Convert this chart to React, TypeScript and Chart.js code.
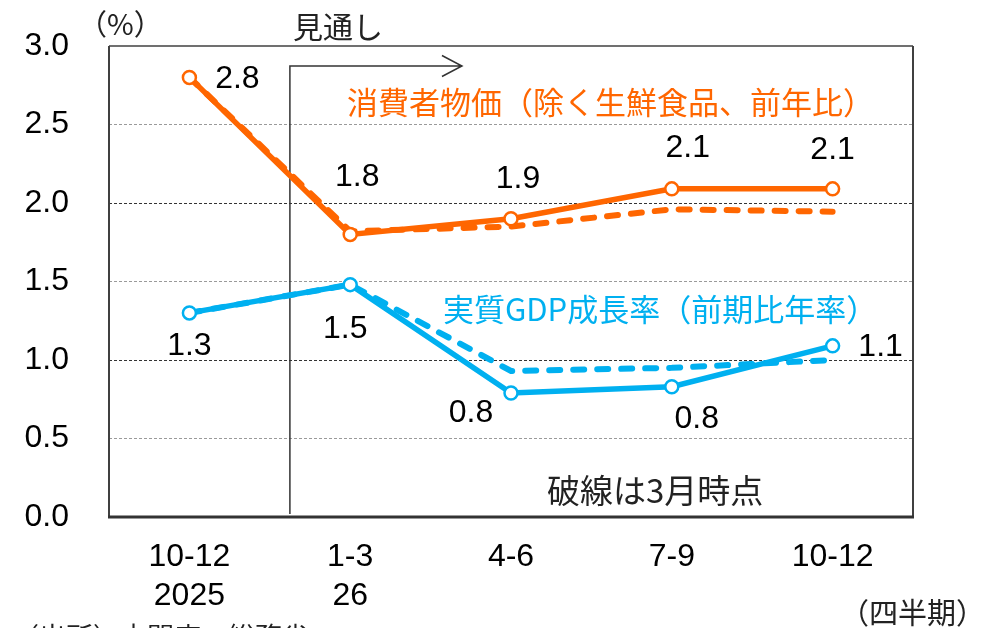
import React, { useEffect, useRef } from "react";
import { Chart, registerables } from "chart.js";

Chart.register(...registerables);

// ---- data ----
const categories: (string | string[])[] = [["10-12", "2025"], ["1-3", "26"], "4-6", "7-9", "10-12"];
const cpiOutlook = [2.8, 1.8, 1.9, 2.09, 2.09];
const cpiMarch = [2.8, 1.82, 1.85, 1.96, 1.945];
const gdpOutlook = [1.3, 1.48, 0.79, 0.83, 1.09];
const gdpMarch = [1.3, 1.48, 0.93, 0.95, 1.0];
const cpiValueLabels = ["2.8", "1.8", "1.9", "2.1", "2.1"];
const gdpValueLabels = ["1.3", "1.5", "0.8", "0.8", "1.1"];
const yMin = 0;
const yMax = 3;
const yStep = 0.5;
const cpiTitle = "消費者物価（除く生鮮食品、前年比）";
const gdpTitle = "実質GDP成長率（前期比年率）";
const outlookText = "見通し";
const noteText = "破線は3月時点";
const unitText = "（%）";
const periodText = "（四半期）";
const sourceText = "（出所）内閣府、総務省";

// ---- styles ----
const ORANGE = "#FF6600";
const BLUE = "#00B0F0";
const NUM_FONT = "'Liberation Sans', Arial, sans-serif";
const JP_FONT = "'Noto Sans CJK JP', 'Liberation Sans', sans-serif";
// label offsets (px) relative to the point
const cpiLabelOffsets = [[48, 2], [7, -57], [7, -40], [16, -41], [0, -39]];
const gdpLabelOffsets = [[0, 33], [-5, 45], [-40, 20], [25, 32], [48, 1]];

const annotationPlugin = {
  id: "annotations",
  beforeDatasetsDraw(chart: any) {
    const { ctx, chartArea, scales } = chart;
    const xs = scales.x;
    const spacing = xs.getPixelForValue(1) - xs.getPixelForValue(0);
    const vx = xs.getPixelForValue(0) + 0.625 * spacing;
    const arrowEnd = xs.getPixelForValue(0) + 1.695 * spacing;
    const ay = chartArea.top + 20;
    ctx.save();
    // frame
    ctx.strokeStyle = "#404040";
    ctx.lineWidth = 1.5;
    ctx.beginPath();
    ctx.moveTo(chartArea.left, chartArea.top);
    ctx.lineTo(chartArea.right, chartArea.top);
    ctx.stroke();
    ctx.lineWidth = 2;
    ctx.beginPath();
    ctx.moveTo(chartArea.left, chartArea.top);
    ctx.lineTo(chartArea.left, chartArea.bottom);
    ctx.moveTo(chartArea.right, chartArea.top);
    ctx.lineTo(chartArea.right, chartArea.bottom);
    ctx.stroke();
    ctx.strokeStyle = "#333333";
    ctx.lineWidth = 3;
    ctx.beginPath();
    ctx.moveTo(chartArea.left - 1, chartArea.bottom);
    ctx.lineTo(chartArea.right + 1, chartArea.bottom);
    ctx.stroke();
    // outlook line + arrow
    ctx.strokeStyle = "#333333";
    ctx.lineWidth = 1.5;
    ctx.beginPath();
    ctx.moveTo(vx, chartArea.bottom - 3);
    ctx.lineTo(vx, ay);
    ctx.lineTo(arrowEnd, ay);
    ctx.moveTo(arrowEnd - 20, ay - 10.5);
    ctx.lineTo(arrowEnd, ay);
    ctx.lineTo(arrowEnd - 20, ay + 10.5);
    ctx.stroke();
    ctx.restore();
  },
  afterDatasetsDraw(chart: any) {
    const { ctx, chartArea, scales } = chart;
    const xs = scales.x;
    const ys = scales.y;
    const spacing = xs.getPixelForValue(1) - xs.getPixelForValue(0);
    const vx = xs.getPixelForValue(0) + 0.625 * spacing;
    ctx.save();
    ctx.textBaseline = "middle";
    // value labels
    ctx.fillStyle = "#000000";
    ctx.font = `32px ${NUM_FONT}`;
    ctx.textAlign = "center";
    cpiOutlook.forEach((v, i) => {
      const [dx, dy] = cpiLabelOffsets[i];
      ctx.fillText(cpiValueLabels[i], xs.getPixelForValue(i) + dx, ys.getPixelForValue(v) + dy);
    });
    gdpOutlook.forEach((v, i) => {
      const [dx, dy] = gdpLabelOffsets[i];
      ctx.fillText(gdpValueLabels[i], xs.getPixelForValue(i) + dx, ys.getPixelForValue(v) + dy);
    });
    // series titles
    ctx.textAlign = "left";
    ctx.font = `31px ${JP_FONT}`;
    ctx.fillStyle = ORANGE;
    ctx.fillText(cpiTitle, vx + 57, chartArea.top + 56);
    ctx.fillStyle = BLUE;
    ctx.fillText(gdpTitle, vx + 153, chartArea.top + 263);
    ctx.fillStyle = "#222222";
    ctx.font = `33px ${JP_FONT}`;
    ctx.fillText(noteText, vx + 257, chartArea.top + 444);
    ctx.font = `30px ${JP_FONT}`;
    ctx.fillText(outlookText, vx + 3, chartArea.top - 19);
    ctx.font = `29px ${JP_FONT}`;
    ctx.fillText(unitText, chartArea.left - 31, chartArea.top - 22);
    ctx.fillText(periodText, chartArea.right - 73, chartArea.bottom + 96);
    ctx.font = `27px ${JP_FONT}`;
    ctx.fillText(sourceText, 12, chartArea.bottom + 120);
    ctx.restore();
  },
};

export default function App() {
  const canvasRef = useRef<HTMLCanvasElement | null>(null);

  useEffect(() => {
    document.body.style.margin = "0";
    const canvas = canvasRef.current;
    if (!canvas) return;
    const dashed = {
      borderWidth: 6,
      borderDash: [11, 13],
      borderCapStyle: "round",
      pointRadius: 0,
      fill: false,
      order: 2,
    };
    const solid = {
      borderWidth: 5.5,
      pointRadius: 6.5,
      pointBorderWidth: 2.5,
      pointBackgroundColor: "#FFFFFF",
      fill: false,
      order: 1,
    };
    const chart = new Chart(canvas, {
      type: "line",
      data: {
        labels: categories,
        datasets: [
          { label: "CPI March", data: cpiMarch, borderColor: ORANGE, ...dashed },
          { label: "GDP March", data: gdpMarch, borderColor: BLUE, ...dashed },
          { label: "CPI", data: cpiOutlook, borderColor: ORANGE, pointBorderColor: ORANGE, ...solid },
          { label: "GDP", data: gdpOutlook, borderColor: BLUE, pointBorderColor: BLUE, ...solid },
        ],
      },
      options: {
        animation: false,
        responsive: false,
        devicePixelRatio: 1,
        layout: { padding: { top: 46, right: 91, left: 0, bottom: 0 } },
        plugins: { legend: { display: false }, tooltip: { enabled: false } },
        scales: {
          x: {
            offset: true,
            grid: { display: false, drawTicks: false },
            border: { display: false },
            ticks: {
              color: "#000000",
              padding: 21,
              maxRotation: 0,
              autoSkip: false,
              font: { family: NUM_FONT, size: 32, lineHeight: 1.22 },
            },
            afterFit: (s: any) => {
              s.height = 111;
            },
          },
          y: {
            min: yMin,
            max: yMax,
            grid: {
              drawTicks: false,
              lineWidth: 1,
              color: (c: any) => {
                const v = c.tick ? c.tick.value : 0;
                if (v <= yMin || v >= yMax) return "rgba(0,0,0,0)";
                return Math.abs(v - Math.round(v)) < 1e-6 ? "#333333" : "#9a9a9a";
              },
            },
            border: { display: false, dash: [3, 2] },
            ticks: {
              stepSize: yStep,
              color: "#000000",
              padding: 40,
              font: { family: NUM_FONT, size: 32 },
              callback: (v: any) => Number(v).toFixed(1),
            },
            afterFit: (s: any) => {
              s.width = 109;
              s.paddingTop = 0;
              s.paddingBottom = 0;
            },
          },
        },
      },
      plugins: [annotationPlugin],
    } as any);
    return () => chart.destroy();
  }, []);

  return (
    <div style={{ width: 1004, height: 628, background: "#fff" }}>
      <canvas ref={canvasRef} width={1004} height={628} style={{ display: "block" }} />
    </div>
  );
}
